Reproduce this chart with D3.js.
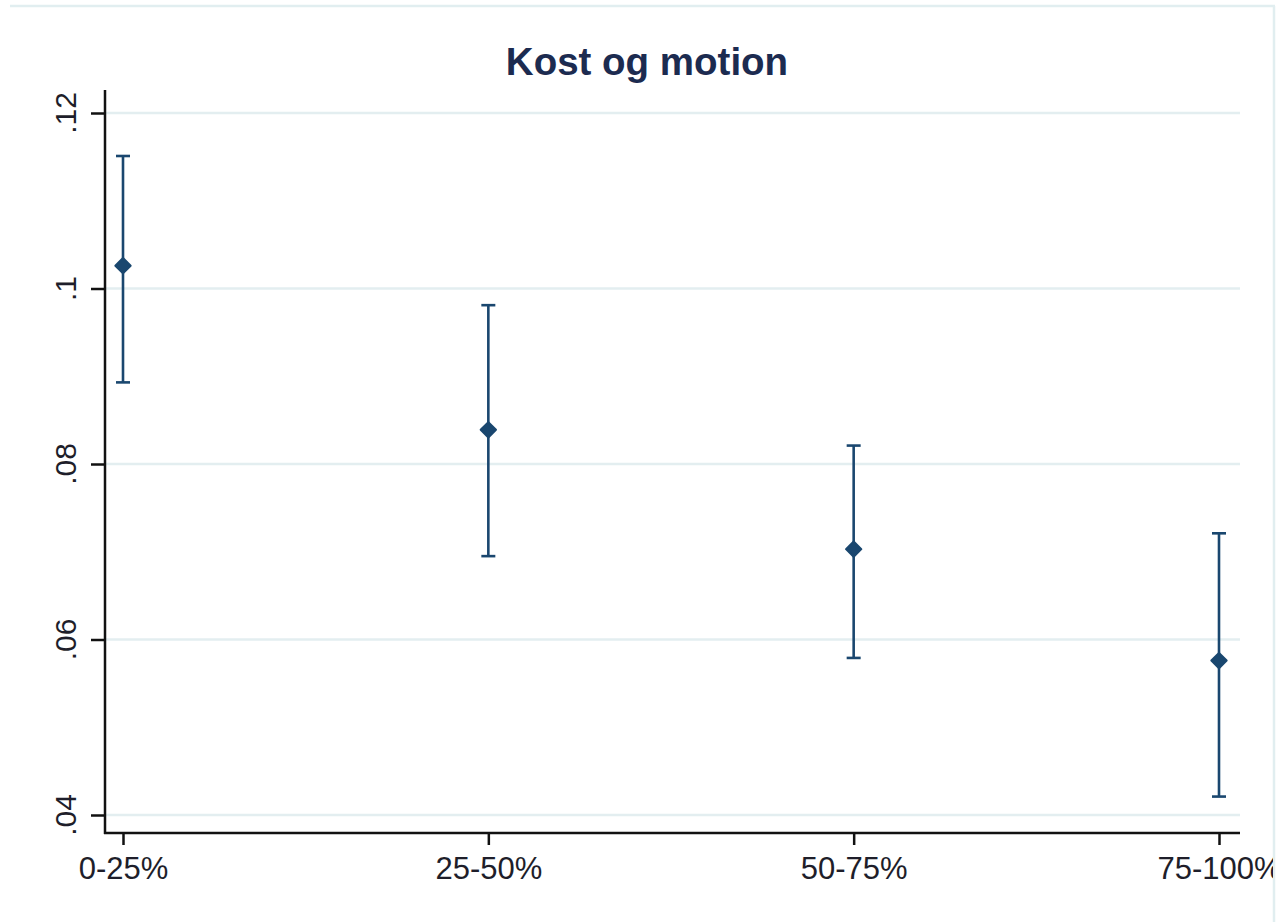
<!DOCTYPE html>
<html>
<head>
<meta charset="utf-8">
<script src="https://cdn.jsdelivr.net/npm/d3@7"></script>
<style>
html,body{margin:0;padding:0;background:#fff;}
svg{display:block;}
</style>
</head>
<body>
<svg id="chart" width="1288" height="922"></svg>
<script>
const title = "Kost og motion";
const categories = ["0-25%", "25-50%", "50-75%", "75-100%"];
const estimates = [0.1026, 0.0839, 0.0703, 0.0576];
const lowerCI = [0.0893, 0.0695, 0.0579, 0.0421];
const upperCI = [0.1151, 0.0981, 0.0821, 0.0721];
const yTicks = [0.04, 0.06, 0.08, 0.1, 0.12];
const yTickLabels = [".04", ".06", ".08", ".1", ".12"];

const svg = d3.select("#chart");
const navy = "#1a476f";
const gridColor = "#e3eef0";
const frameColor = "#e1eef0";

// frame (top and right edges visible)
svg.append("defs").append("clipPath").attr("id", "frameClip")
  .append("rect").attr("x", 0).attr("y", 0).attr("width", 1273).attr("height", 922);
svg.append("line").attr("x1", 10).attr("x2", 1275).attr("y1", 6).attr("y2", 6)
  .attr("stroke", frameColor).attr("stroke-width", 2.5);
svg.append("line").attr("x1", 1274).attr("x2", 1274).attr("y1", 6).attr("y2", 922)
  .attr("stroke", frameColor).attr("stroke-width", 2.5);

const g = svg.append("g").attr("clip-path", "url(#frameClip)");

const plotLeft = 105, plotRight = 1240, plotTop = 90, plotBottom = 833;

const x = d3.scalePoint().domain(categories).range([123, 1219]);
const y = d3.scaleLinear().domain([0.04, 0.12]).range([815, 113]);

// gridlines
g.append("g").selectAll("line").data(yTicks).join("line")
  .attr("x1", plotLeft).attr("x2", plotRight)
  .attr("y1", d => y(d)).attr("y2", d => y(d))
  .attr("stroke", gridColor).attr("stroke-width", 2.5);

// y axis
const yAxis = d3.axisLeft(y).tickValues(yTicks)
  .tickFormat((d, i) => yTickLabels[i]).tickSize(14).tickPadding(0);
const yg = g.append("g").attr("transform", `translate(${plotLeft},0)`).call(yAxis);
yg.select(".domain").remove();
yg.selectAll(".tick line").attr("stroke", "#111").attr("stroke-width", 2.5);
yg.selectAll(".tick text").remove();
g.append("line").attr("x1", plotLeft).attr("x2", plotLeft).attr("y1", plotTop).attr("y2", plotBottom + 1)
  .attr("stroke", "#111").attr("stroke-width", 2.5);
g.append("g").selectAll("text").data(yTicks).join("text")
  .attr("transform", (d) => `translate(76,${y(d)}) rotate(-90)`)
  .attr("text-anchor", "middle")
  .attr("font-family", "Liberation Sans, Arial, sans-serif")
  .attr("font-size", 30).attr("fill", "#1e1e2a")
  .text((d, i) => yTickLabels[i]);

// x axis
const xAxis = d3.axisBottom(x).tickSize(12).tickPadding(12);
const xg = g.append("g").attr("transform", `translate(0,${plotBottom})`).call(xAxis);
xg.select(".domain").remove();
xg.selectAll(".tick line").attr("stroke", "#111").attr("stroke-width", 2.5);
xg.selectAll(".tick text")
  .attr("font-family", "Liberation Sans, Arial, sans-serif")
  .attr("font-size", 31).attr("fill", "#1e1e2a");
g.append("line").attr("x1", plotLeft - 1).attr("x2", plotRight).attr("y1", plotBottom).attr("y2", plotBottom)
  .attr("stroke", "#111").attr("stroke-width", 2.5);

// error bars
const data = categories.map((c, i) => ({c, est: estimates[i], lo: lowerCI[i], hi: upperCI[i]}));
const eb = g.append("g");
eb.selectAll(".stem").data(data).join("line")
  .attr("x1", d => x(d.c)).attr("x2", d => x(d.c))
  .attr("y1", d => y(d.lo)).attr("y2", d => y(d.hi))
  .attr("stroke", navy).attr("stroke-width", 2.6);
eb.selectAll(".capTop").data(data).join("line")
  .attr("x1", d => x(d.c) - 7).attr("x2", d => x(d.c) + 7)
  .attr("y1", d => y(d.hi)).attr("y2", d => y(d.hi))
  .attr("stroke", navy).attr("stroke-width", 2.6);
eb.selectAll(".capBot").data(data).join("line")
  .attr("x1", d => x(d.c) - 7).attr("x2", d => x(d.c) + 7)
  .attr("y1", d => y(d.lo)).attr("y2", d => y(d.lo))
  .attr("stroke", navy).attr("stroke-width", 2.6);

// markers
const diamond = d3.symbol().type(d3.symbolDiamond2).size(150);
g.append("g").selectAll("path").data(data).join("path")
  .attr("transform", d => `translate(${x(d.c)},${y(d.est)})`)
  .attr("d", diamond).attr("fill", navy).attr("stroke", navy).attr("stroke-width", 2)
  .attr("stroke-linejoin", "round");

// title
svg.append("text").attr("x", 647).attr("y", 75).attr("text-anchor", "middle")
  .attr("font-family", "Liberation Sans, Arial, sans-serif").attr("font-weight", "bold")
  .attr("font-size", 38.5).attr("fill", "#1c2b50").text(title);
</script>
</body>
</html>
